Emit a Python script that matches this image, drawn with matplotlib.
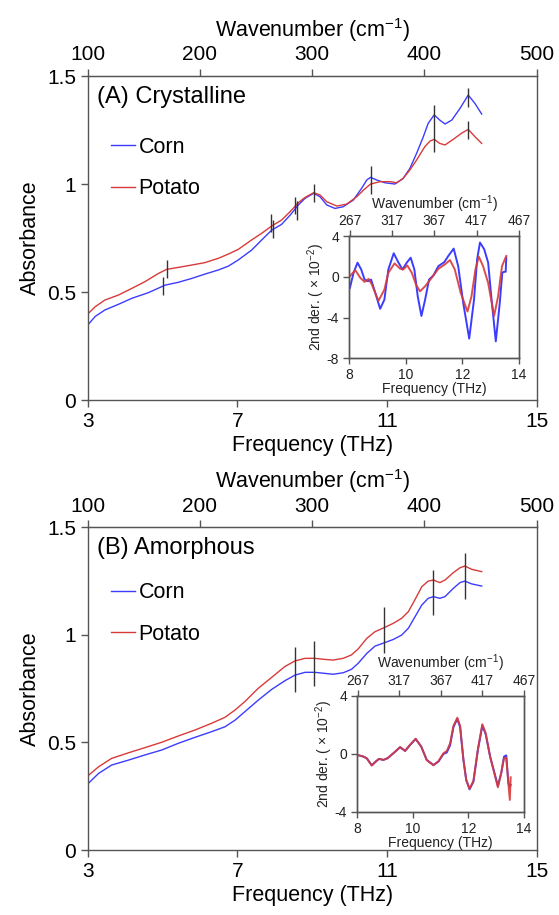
import numpy as np
import matplotlib.pyplot as plt

plt.rcParams['font.family'] = ['Liberation Sans', 'DejaVu Sans']
plt.rcParams['mathtext.fontset'] = 'custom'
plt.rcParams['mathtext.rm'] = 'Liberation Sans'
plt.rcParams['mathtext.it'] = 'Liberation Sans:italic'
plt.rcParams['axes.unicode_minus'] = False
plt.rcParams['lines.solid_joinstyle'] = 'round'

BLUE = '#3c3cff'
RED = '#d83a3a'
SPINE = '#555555'

# ---- (A) crystalline, absorbance
cry_f = [3.0, 3.20, 3.46, 3.82, 4.18, 4.62, 5.07, 5.42, 5.78, 6.13, 6.49,
         6.76, 7.02, 7.38, 7.65, 7.92, 8.18, 8.41, 8.63, 8.81, 9.04, 9.21,
         9.39, 9.61, 9.83, 10.10, 10.32, 10.46, 10.56, 10.72, 10.94, 11.21,
         11.43, 11.61, 11.79, 11.97, 12.10, 12.26, 12.41, 12.55, 12.73,
         12.95, 13.17, 13.35, 13.53]
cry_corn = [0.347, 0.387, 0.417, 0.443, 0.471, 0.497, 0.532, 0.545, 0.563,
            0.583, 0.602, 0.620, 0.648, 0.694, 0.741, 0.787, 0.813, 0.856,
            0.903, 0.934, 0.957, 0.941, 0.903, 0.887, 0.895, 0.926, 0.980,
            1.019, 1.031, 1.019, 1.006, 1.000, 1.026, 1.072, 1.142, 1.219,
            1.281, 1.320, 1.296, 1.278, 1.296, 1.350, 1.412, 1.373, 1.324]
cry_f_p = [3.0, 3.20, 3.46, 3.82, 4.18, 4.53, 4.89, 5.11, 5.42, 5.78, 6.13,
           6.49, 6.76, 7.02, 7.38, 7.65, 7.92, 8.18, 8.41, 8.63, 8.81, 9.04,
           9.21, 9.39, 9.66, 9.92, 10.19, 10.37, 10.56, 10.81, 11.08, 11.26,
           11.43, 11.61, 11.79, 12.01, 12.15, 12.26, 12.41, 12.55, 12.77,
           12.99, 13.17, 13.35, 13.53]
cry_potato = [0.398, 0.432, 0.463, 0.486, 0.517, 0.548, 0.586, 0.605, 0.614,
              0.625, 0.636, 0.656, 0.676, 0.697, 0.741, 0.772, 0.806, 0.833,
              0.872, 0.914, 0.938, 0.960, 0.949, 0.918, 0.898, 0.907, 0.941,
              0.972, 1.000, 1.011, 1.011, 1.006, 1.026, 1.065, 1.111, 1.173,
              1.199, 1.207, 1.188, 1.181, 1.207, 1.235, 1.253, 1.219, 1.188]
# peak markers: frequency, lower end, upper end
cry_pk_f = [5.02, 5.11, 7.89, 7.96, 8.53, 8.60, 9.04, 10.56, 12.26, 13.17, 13.17]
cry_pk_lo = [0.486, 0.563, 0.779, 0.752, 0.860, 0.833, 0.918, 0.952, 1.150, 1.358, 1.207]
cry_pk_hi = [0.568, 0.648, 0.861, 0.833, 0.941, 0.923, 1.000, 1.083, 1.366, 1.443, 1.293]

# ---- (A) inset, 2nd derivative (x10^-2)
cry_d_f = [8.02, 8.15, 8.29, 8.42, 8.54, 8.66, 8.77, 8.92, 9.09, 9.24, 9.38,
           9.57, 9.74, 9.88, 10.03, 10.17, 10.30, 10.42, 10.55, 10.68, 10.82,
           10.97, 11.15, 11.36, 11.50, 11.69, 11.85, 12.03, 12.24, 12.41,
           12.52, 12.62, 12.77, 12.91, 13.02, 13.18, 13.32, 13.41, 13.47,
           13.53, 13.55]
cry_d_corn = [-1.09, 0.41, 1.41, 0.74, -0.26, -0.42, -0.26, -1.58, -3.14,
              -2.24, 0.74, 2.34, 1.41, 0.74, 1.41, 1.90, 0.74, -1.92, -3.85,
              -2.24, -0.26, 0.14, 1.07, 1.47, 2.07, 2.80, 1.07, -2.59, -6.08,
              -2.24, 1.74, 3.40, 2.74, 1.41, -1.92, -6.35, -2.59, 0.41, 0.51,
              0.51, 1.90]
cry_d_f_p = [8.02, 8.21, 8.39, 8.54, 8.68, 8.80, 9.03, 9.24, 9.38, 9.60, 9.80,
             9.91, 10.05, 10.21, 10.36, 10.50, 10.68, 10.91, 11.15, 11.38,
             11.56, 11.73, 11.94, 12.18, 12.32, 12.46, 12.58, 12.73, 12.91,
             13.12, 13.26, 13.40, 13.55]
cry_d_potato = [0.08, 0.67, -0.09, -0.49, -0.19, -0.76, -2.36, -1.25, 0.41,
                1.34, 0.81, 0.74, 1.14, 0.41, -0.76, -1.42, -0.92, -0.09, 0.81,
                1.24, 1.67, 0.74, -1.58, -3.41, -1.92, 0.74, 2.00, 1.07,
                -0.59, -3.85, -1.92, 1.07, 2.07]

# ---- (B) amorphous, absorbance
amo_f = [3.0, 3.29, 3.64, 4.09, 4.53, 4.98, 5.42, 5.87, 6.31, 6.67, 6.94,
         7.20, 7.56, 7.92, 8.27, 8.54, 8.81, 9.07, 9.34, 9.56, 9.83, 10.05,
         10.23, 10.46, 10.68, 10.94, 11.17, 11.39, 11.57, 11.75, 11.93,
         12.10, 12.24, 12.41, 12.55, 12.77, 12.95, 13.08, 13.26, 13.53]
amo_corn = [0.307, 0.356, 0.395, 0.418, 0.442, 0.465, 0.496, 0.524, 0.550,
            0.573, 0.604, 0.643, 0.697, 0.747, 0.787, 0.813, 0.826, 0.826,
            0.821, 0.817, 0.824, 0.840, 0.868, 0.914, 0.948, 0.964, 0.979,
            0.999, 1.031, 1.085, 1.139, 1.170, 1.178, 1.170, 1.178, 1.216,
            1.243, 1.250, 1.237, 1.227]
amo_potato = [0.344, 0.387, 0.426, 0.452, 0.476, 0.501, 0.530, 0.558, 0.589,
              0.617, 0.651, 0.690, 0.752, 0.803, 0.853, 0.879, 0.891, 0.891,
              0.886, 0.883, 0.891, 0.907, 0.935, 0.984, 1.015, 1.035, 1.054,
              1.077, 1.108, 1.165, 1.224, 1.250, 1.255, 1.243, 1.255, 1.289,
              1.312, 1.320, 1.305, 1.294]
amo_pk_f = [8.54, 9.04, 10.93, 12.24, 13.08]
amo_pk_lo = [0.736, 0.764, 0.918, 1.093, 1.165]
amo_pk_hi = [0.945, 0.973, 1.128, 1.302, 1.379]

# ---- (B) inset, 2nd derivative (x10^-2)
amo_d_f = [8.0, 8.22, 8.34, 8.52, 8.66, 8.78, 8.94, 9.09, 9.30, 9.54, 9.72,
           9.90, 10.10, 10.30, 10.50, 10.74, 10.92, 11.10, 11.22, 11.34,
           11.46, 11.60, 11.70, 11.82, 11.92, 12.04, 12.18, 12.34, 12.50,
           12.62, 12.78, 12.94, 13.06, 13.18, 13.28, 13.36, 13.44, 13.49,
           13.52]
amo_d_corn = [-0.07, -0.18, -0.30, -0.78, -0.53, -0.34, -0.41, -0.30, 0.05,
              0.46, 0.21, 0.62, 1.03, 0.51, -0.41, -0.76, -0.53, 0.0, 0.10,
              0.60, 1.85, 2.42, 1.85, -0.41, -1.79, -2.44, -1.91, 0.28, 1.95,
              1.38, -0.18, -1.33, -2.20, -1.33, -0.18, -0.10, -2.02, -2.25,
              -2.14]
amo_d_potato = [-0.07, -0.18, -0.30, -0.80, -0.53, -0.34, -0.41, -0.28, 0.05,
                0.48, 0.21, 0.64, 1.05, 0.51, -0.43, -0.78, -0.50, 0.05, 0.20,
                0.74, 1.93, 2.50, 1.93, -0.41, -1.79, -2.40, -1.85, 0.32, 2.05,
                1.43, -0.18, -1.40, -2.30, -1.30, -0.30, -0.25, -2.10, -3.17,
                -1.61]

main_xticks = [3, 7, 11, 15]
main_yticks = [0, 0.5, 1, 1.5]
main_ytick_labels = ['0', '0.5', '1', '1.5']
wn_ticks = [100, 200, 300, 400, 500]
inset_xticks = [8, 10, 12, 14]
inset_wn_ticks = [267, 317, 367, 417, 467]


def style_axes(ax, lsize, color):
    for s in ax.spines.values():
        s.set_color(SPINE)
        s.set_linewidth(1.0)
    ax.tick_params(direction='out', length=5, width=1.0, color=SPINE,
                   labelsize=lsize, labelcolor=color)


def panel(ax_rect, ins_rect, title, f_c, corn, f_p, potato, pk_f, pk_lo, pk_hi,
          df_c, dcorn, df_p, dpotato, ins_yticks, ins_ylim, leg_y):
    ax = fig.add_axes(ax_rect)
    ax.plot(f_c, corn, color=BLUE, lw=1.0, label='Corn')
    ax.plot(f_p, potato, color=RED, lw=1.0, label='Potato')
    ax.vlines(pk_f, pk_lo, pk_hi, color='#333333', lw=1.0)
    ax.set_xlim(3, 15)
    ax.set_ylim(0, 1.5)
    ax.set_xticks(main_xticks)
    ax.set_yticks(main_yticks)
    ax.set_yticklabels(main_ytick_labels)
    style_axes(ax, 15, 'black')
    ax.set_xlabel('Frequency (THz)', fontsize=15.5, labelpad=3)
    ax.set_ylabel('Absorbance', fontsize=15.5, labelpad=4)
    ax.text(0.02, 0.935, title, transform=ax.transAxes, fontsize=17,
            va='center', ha='left')
    ax.legend(loc='center left', bbox_to_anchor=(0.051, leg_y), frameon=False,
              fontsize=15.5, handlelength=1.15, handletextpad=0.15,
              labelspacing=0.95, borderpad=0, borderaxespad=0)

    top = ax.secondary_xaxis('top', functions=(lambda f: f * 100 / 3,
                                               lambda w: w * 3 / 100))
    top.set_xticks(wn_ticks)
    top.tick_params(direction='out', length=5, width=1.0, color=SPINE,
                    labelsize=15)
    top.spines['top'].set_color(SPINE)
    top.set_xlabel('Wavenumber (cm$^{-1}$)', fontsize=15.5, labelpad=6)

    ins = fig.add_axes(ins_rect)
    ins.plot(df_c, dcorn, color=BLUE, lw=1.4)
    ins.plot(df_p, dpotato, color=RED, lw=1.4, alpha=0.9)
    ins.set_xlim(8, 14)
    ins.set_ylim(*ins_ylim)
    ins.set_xticks(inset_xticks)
    ins.set_yticks(ins_yticks)
    style_axes(ins, 10, '#222222')
    ins.tick_params(length=4)
    ins.set_xlabel('Frequency (THz)', fontsize=10, color='#222222', labelpad=0)
    ins.set_ylabel('2nd der. ( $\\times$ 10$^{-2}$)', fontsize=10,
                   color='#222222', labelpad=0)
    itop = ins.twiny()
    itop.set_xlim(8, 14)
    itop.set_xticks([w * 3 / 100 for w in inset_wn_ticks])
    itop.set_xticklabels([str(w) for w in inset_wn_ticks])
    style_axes(itop, 10, '#222222')
    itop.tick_params(length=4, pad=2)
    itop.set_xlabel('Wavenumber (cm$^{-1}$)', fontsize=10, color='#222222',
                    labelpad=4)
    return ax


fig = plt.figure(figsize=(5.59, 9.15), dpi=100)

panel([0.1569, 0.5628, 0.8032, 0.3541], [0.6249, 0.6087, 0.3035, 0.1329],
      '(A) Crystalline', cry_f, cry_corn, cry_f_p, cry_potato,
      cry_pk_f, cry_pk_lo, cry_pk_hi,
      cry_d_f, cry_d_corn, cry_d_f_p, cry_d_potato, [-8, -4, 0, 4], (-8, 4),
      0.716)

panel([0.1569, 0.0710, 0.8032, 0.3527], [0.6392, 0.1126, 0.2982, 0.1268],
      '(B) Amorphous', amo_f, amo_corn, amo_f, amo_potato,
      amo_pk_f, amo_pk_lo, amo_pk_hi,
      amo_d_f, amo_d_corn, amo_d_f, amo_d_potato, [-4, 0, 4], (-4, 4),
      0.733)

fig.savefig('out.png', dpi=100)
